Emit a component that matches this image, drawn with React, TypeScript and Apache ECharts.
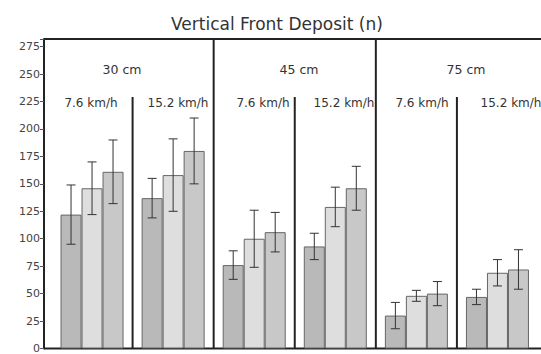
import React, { useEffect, useRef } from "react";
import * as echarts from "echarts";

const categories = ["30 cm 7.6 km/h", "30 cm 15.2 km/h", "45 cm 7.6 km/h", "45 cm 15.2 km/h", "75 cm 7.6 km/h", "75 cm 15.2 km/h"];
const depthLabels = ["30 cm", "45 cm", "75 cm"];
const speedLabels = ["7.6 km/h", "15.2 km/h", "7.6 km/h", "15.2 km/h", "7.6 km/h", "15.2 km/h"];
const series1 = [122, 137, 76, 93, 30, 47];
const err1 = [27, 18, 13, 12, 12, 7];
const series2 = [146, 158, 100, 129, 48, 69];
const err2 = [24, 33, 26, 18, 5, 12];
const series3 = [161, 180, 106, 146, 50, 72];
const err3 = [29, 30, 18, 20, 11, 18];
const Y_MAX = 282;
const Y_STEP = 25;

const W = 541;
const H = 354;
const GRID_LEFT = 51.5;
const Y_OFFSET = 7.5;
const BAR_W = 21;
const depthLabelX = [122, 299, 466];
const speedLabelX = [91, 178, 263, 344, 422, 511];
const FONT = "DejaVu Sans";

export default function App() {
  const ref = useRef<HTMLDivElement>(null);
  useEffect(() => {
    if (!ref.current) return;
    const chart = echarts.init(ref.current, null, { renderer: "svg" });
    const vals = [series1, series2, series3];
    const errs = [err1, err2, err3];
    const colors = ["#b9b9b9", "#dedede", "#c8c8c8"];
    const errData: any[] = [];
    vals.forEach((s, si) => {
      s.forEach((v, ci) => {
        errData.push([ci, v - errs[si][ci], v + errs[si][ci], si]);
      });
    });
    chart.setOption({
      animation: false,
      title: {
        text: "Vertical Front Deposit (n)",
        left: 166,
        top: 10,
        textStyle: { fontFamily: FONT, fontSize: 17, fontWeight: "normal", color: "#333" },
      },
      grid: { left: GRID_LEFT, right: 3, top: 39, bottom: 2, containLabel: false },
      xAxis: {
        type: "category",
        data: categories,
        axisLine: { show: false },
        axisTick: { show: false },
        axisLabel: { show: false },
        splitLine: { show: false },
      },
      yAxis: {
        type: "value",
        min: 0,
        max: Y_MAX,
        interval: Y_STEP,
        offset: Y_OFFSET,
        axisLine: { show: true, lineStyle: { color: "#222", width: 2 } },
        axisTick: { show: true, length: 4, lineStyle: { color: "#555" } },
        axisLabel: {
          fontFamily: FONT,
          fontSize: 11,
          color: "#444",
          margin: 4,
          formatter: (v: number) => (v % Y_STEP === 0 ? String(v) : ""),
        },
        splitLine: { show: false },
      },
      series: [
        ...vals.map((s, si) => ({
          type: "bar",
          data: s,
          barWidth: BAR_W,
          barGap: "0%",
          itemStyle: { color: colors[si], borderColor: "#666", borderWidth: 1 },
        })),
        {
          type: "custom",
          data: errData,
          encode: { x: 0, y: [1, 2] },
          z: 10,
          renderItem: (params: any, api: any) => {
            const ci = api.value(0);
            const lo = api.coord([ci, api.value(1)]);
            const hi = api.coord([ci, api.value(2)]);
            const x = lo[0] + (api.value(3) - 1) * BAR_W;
            const cap = 4.5;
            const style = { stroke: "#333", lineWidth: 1 };
            return {
              type: "group",
              children: [
                { type: "line", shape: { x1: x, y1: lo[1], x2: x, y2: hi[1] }, style },
                { type: "line", shape: { x1: x - cap, y1: lo[1], x2: x + cap, y2: lo[1] }, style },
                { type: "line", shape: { x1: x - cap, y1: hi[1], x2: x + cap, y2: hi[1] }, style },
              ],
            };
          },
        },
      ],
    });

    const yTop = chart.convertToPixel({ yAxisIndex: 0 }, Y_MAX) as number;
    const yBot = chart.convertToPixel({ yAxisIndex: 0 }, 0) as number;
    const cx = categories.map((_, i) => chart.convertToPixel({ xAxisIndex: 0 }, i) as number);
    const xLeft = GRID_LEFT - Y_OFFSET;
    const lineStyle = { stroke: "#222", lineWidth: 2 };
    const graphics: any[] = [
      { type: "line", shape: { x1: xLeft, y1: yTop, x2: W, y2: yTop }, style: lineStyle },
      { type: "line", shape: { x1: xLeft, y1: yBot, x2: W, y2: yBot }, style: lineStyle },
    ];
    for (let i = 0; i < categories.length - 1; i++) {
      const bx = (cx[i] + cx[i + 1]) / 2;
      const major = i % 2 === 1;
      graphics.push({
        type: "line",
        shape: { x1: bx, y1: major ? yTop : 97, x2: bx, y2: yBot },
        style: lineStyle,
      });
    }
    depthLabels.forEach((t, i) => {
      graphics.push({
        type: "text",
        x: depthLabelX[i],
        y: 69,
        style: { text: t, fontFamily: FONT, fontSize: 12.5, fill: "#333", align: "center", verticalAlign: "middle" },
      });
    });
    speedLabels.forEach((t, i) => {
      graphics.push({
        type: "text",
        x: speedLabelX[i],
        y: 103,
        style: { text: t, fontFamily: FONT, fontSize: 12, fill: "#333", align: "center", verticalAlign: "middle" },
      });
    });
    chart.setOption({ graphic: graphics });

    return () => chart.dispose();
  }, []);
  return <div ref={ref} style={{ position: "fixed", left: 0, top: 0, width: W, height: H, background: "#fff" }} />;
}
